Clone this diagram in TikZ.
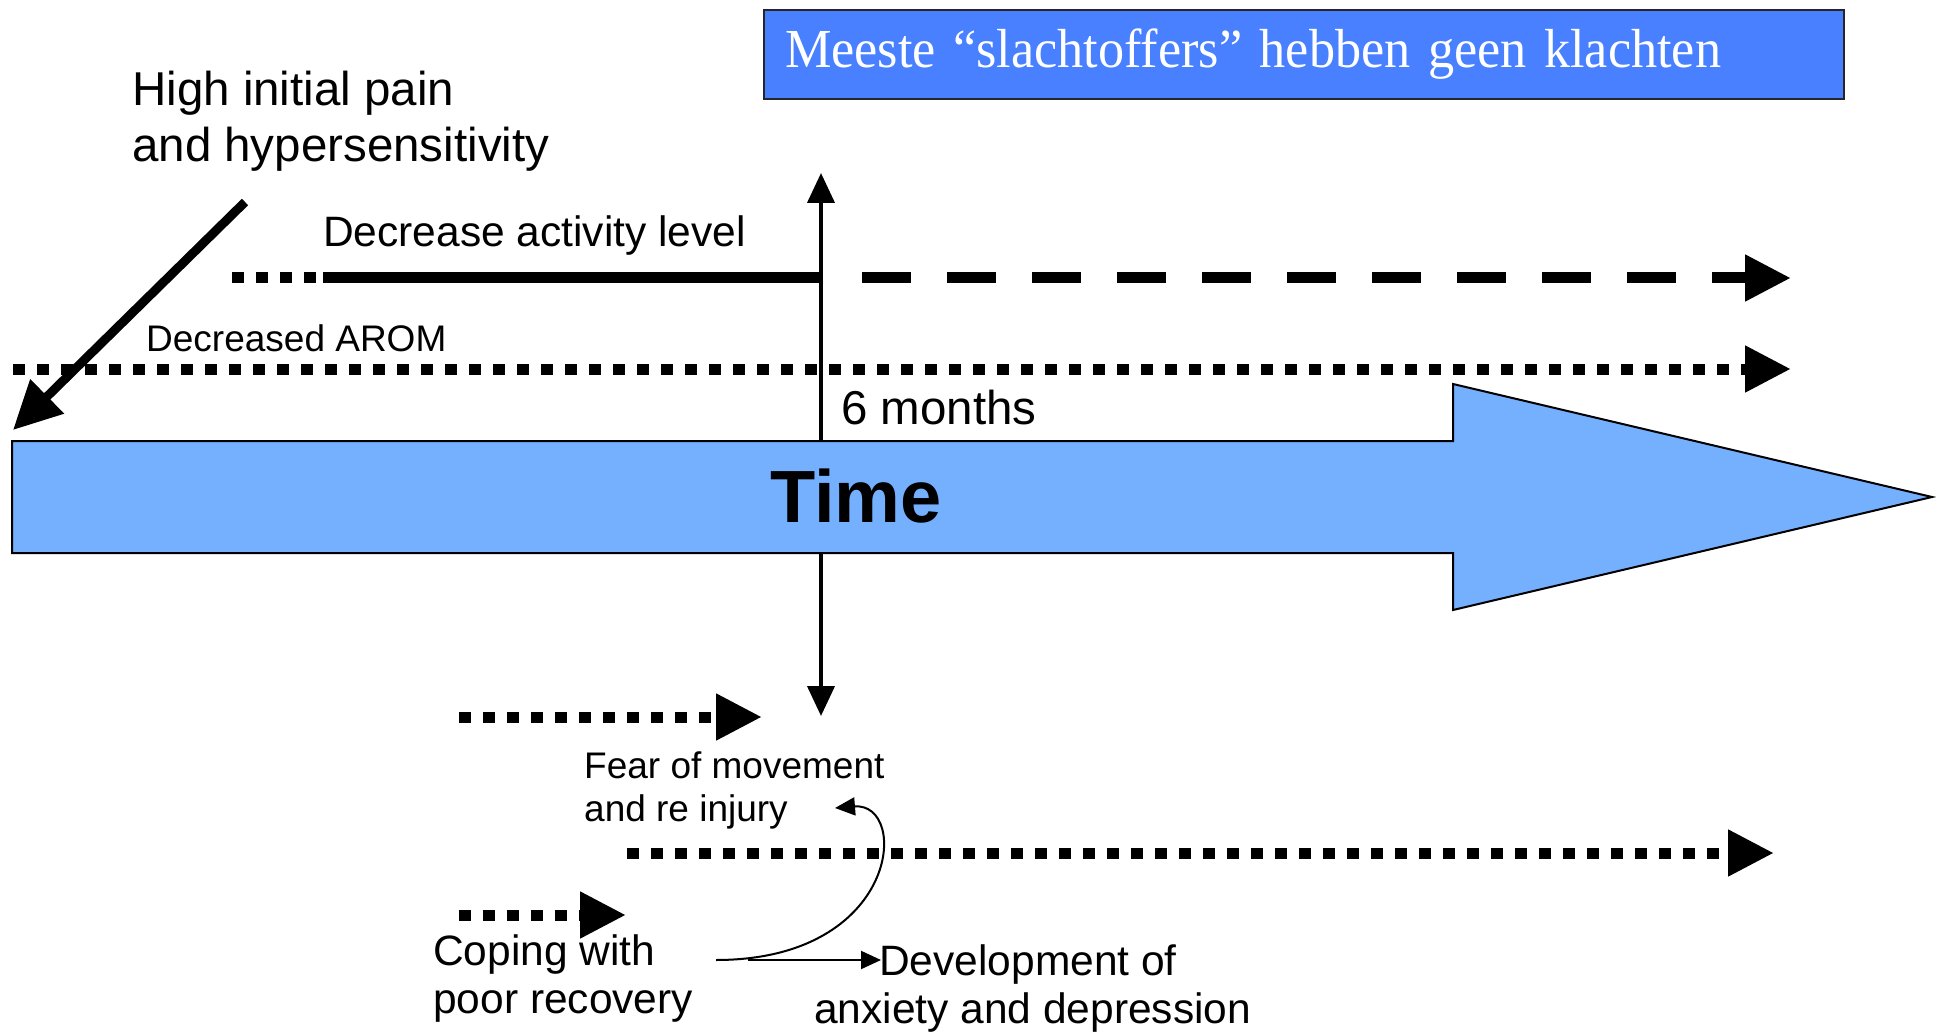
\documentclass[tikz,border=0pt]{standalone}
\usepackage{fontspec}
\setmainfont{Liberation Sans}
\newfontfamily\titlefont{Liberation Serif}
\usetikzlibrary{arrows.meta}
\definecolor{boxblue}{RGB}{72,128,255}
\definecolor{timeblue}{RGB}{117,176,255}
\begin{document}
\begin{tikzpicture}[x=1pt,y=-1pt,
  lbl/.style={inner sep=0pt, anchor=base west, font=\fontsize{42.5}{48}\selectfont},
  lblsmall/.style={inner sep=0pt, anchor=base west, font=\fontsize{37}{42}\selectfont},
  lblbig/.style={inner sep=0pt, anchor=base west, font=\fontsize{47.5}{54}\selectfont},
  dotarrow/.style={line width=11pt, dash pattern=on 12pt off 12pt, -{Triangle[length=46pt,width=44pt]}},
  dotplain/.style={line width=11pt, dash pattern=on 12pt off 12pt},
  solidthick/.style={line width=11pt},
  dasharrow/.style={line width=11pt, dash pattern=on 49pt off 36pt, -{Triangle[length=46pt,width=44pt]}},
  vline/.style={line width=4pt, -{Triangle[length=30pt,width=27pt]}},
  diagarrow/.style={line width=9pt, -{Triangle[length=48pt,width=46pt]}},
  thinarrow/.style={line width=2pt, -{Triangle[length=20pt,width=18pt]}},
  timearrow/.style={fill=timeblue, draw=black, line width=2pt, line join=miter},
  titlebox/.style={draw=black!85, fill=boxblue, line width=2pt, text=white,
    font=\titlefont\fontsize{55}{60}\selectfont, anchor=west,
    minimum height=89pt, text width=1038pt, inner xsep=21pt, inner ysep=0pt, align=left}
]
\useasboundingbox (0,0) rectangle (1936,1032);

% title box
\node[titlebox] (title) at (763,54.5) {\resizebox{936pt}{\height}{Meeste “slachtoffers” hebben geen klachten}};

% Time arrow
\draw[timearrow] (12,441) -- (1453,441) -- (1453,384) -- (1932,497) -- (1453,610) -- (1453,553) -- (12,553) -- cycle;
\coordinate (tup) at (821,441);
\coordinate (tdown) at (821,553);
\coordinate (tleft) at (13,430);
\node[inner sep=0pt, anchor=base west, font=\bfseries\fontsize{74}{80}\selectfont] (time) at (770,522) {Time};

% six months vertical arrows
\coordinate (uptip) at (821,173);
\coordinate (downtip) at (821,716);
\draw[vline] (tup) -- (uptip);
\draw[vline] (tdown) -- (downtip);
\node[lblbig] (months) at (841,424) {6 months};

% high initial pain
\node[lblbig] (pain1) at (132,106) {High initial pain};
\node[lblbig] (pain2) at (132,162) {and hypersensitivity};
\coordinate (painout) at (245,202);
\draw[diagarrow] (painout) -- (tleft);

% activity level
\node[lbl] (activity) at (323,247) {Decrease activity level};
\coordinate (act0) at (232,278);
\coordinate (act1) at (323,278);
\coordinate (act2) at (822,278);
\coordinate (act3) at (862,278);
\coordinate (act4) at (1791,278);
\draw[dotplain] (act0) -- (act1);
\draw[solidthick] (act1) -- (act2);
\draw[dasharrow] (act3) -- (act4);

% AROM
\node[lblsmall] (arom) at (146,352) {Decreased AROM};
\coordinate (arom0) at (13,369);
\coordinate (arom1) at (1791,369);
\draw[dotarrow] (arom0) -- (arom1);

% fear of movement
\coordinate (fear0) at (459,717);
\coordinate (fear1) at (762,717);
\draw[dotarrow] (fear0) -- (fear1);
\node[lblsmall] (fear1l) at (584,778) {Fear of movement};
\node[lblsmall] (fear2l) at (584,821) {and re injury};

% middle dotted
\coordinate (mid0) at (627,853);
\coordinate (mid1) at (1774,853);
\draw[dotarrow] (mid0) -- (mid1);

% coping
\coordinate (cop0) at (459,915);
\coordinate (cop1) at (626,915);
\draw[dotarrow] (cop0) -- (cop1);
\node[lbl] (cope1) at (433,965) {Coping with};
\node[lbl] (cope2) at (433,1013) {poor recovery};

% development
\node[lbl] (dev1) at (879,975) {Development of};
\node[lbl] (dev2) at (814,1023) {anxiety and depression};

% thin arrows
\coordinate (copeout) at (716,960);
\coordinate (copeout2) at (748,960);
\coordinate (fearin) at (835,808);
\coordinate (devin) at (881,960);
\draw[thinarrow] (copeout) .. controls (900,960) and (910,802) .. (fearin);
\draw[thinarrow] (copeout2) -- (devin);
\end{tikzpicture}
\end{document}
